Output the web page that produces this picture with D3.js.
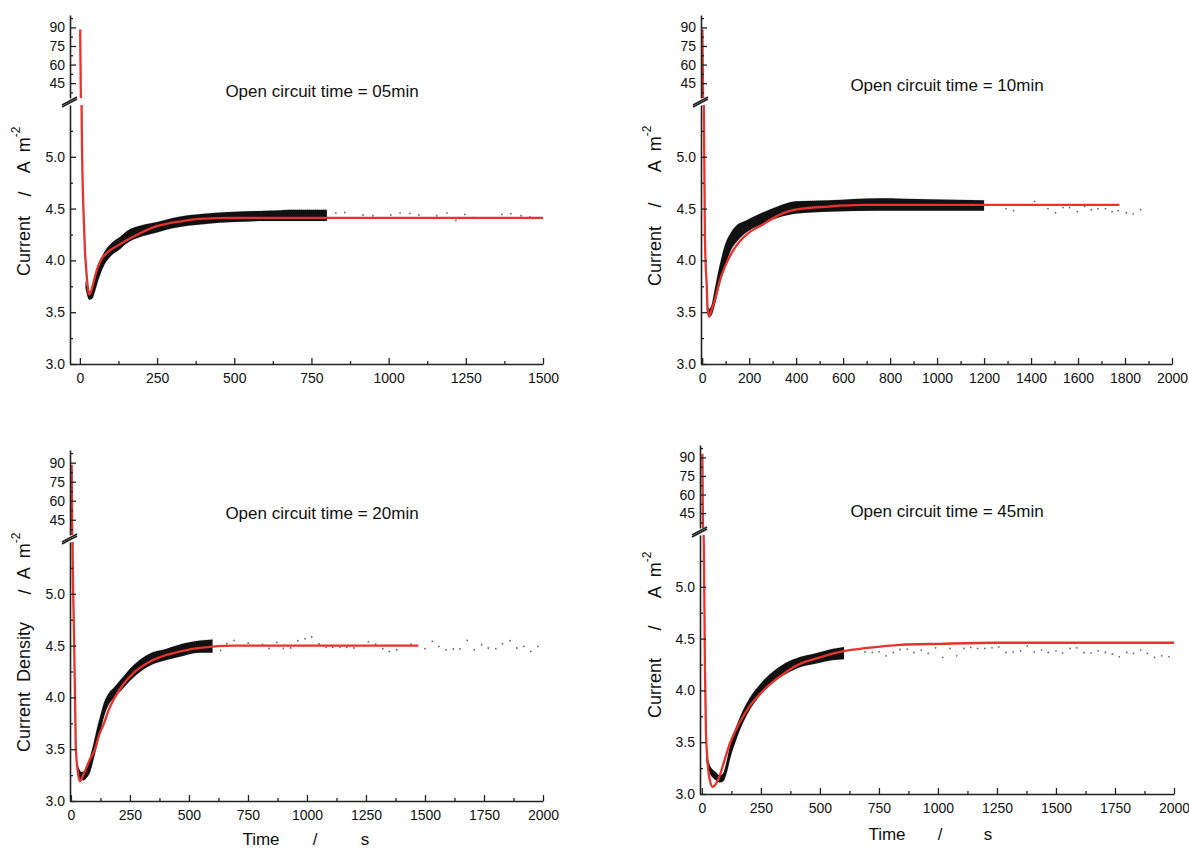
<!DOCTYPE html>
<html>
<head>
<meta charset="UTF-8">
<title>Current transients</title>
<script src="https://cdn.jsdelivr.net/npm/d3@7/dist/d3.min.js"></script>
<style>
  body { margin: 0; background: #fff; }
  svg { display: block; }
  text { font-family: "Liberation Sans", Arial, sans-serif; fill: #111; }
</style>
</head>
<body>
<script>
// ---- data: [time s, current A m-2] ----
const titles = ["Open circuit time = 05min", "Open circuit time = 10min",
                "Open circuit time = 20min", "Open circuit time = 45min"];

// fitted curves (red)
const fit05 = [[1,88.4],[5.5,5.5],[9,4.75],[12,4.45],[16,4.12],[20,3.93],[24,3.79],[27,3.71],[30,3.67],[35,3.69],
  [45,3.80],[55,3.91],[67,4.0],[90,4.08],[121,4.14],[174,4.23],[249,4.33],[333,4.38],[388,4.40],[500,4.41],[800,4.41],[1500,4.41]];
const fit10 = [[1,88.4],[7,5.5],[9,5.0],[11.5,4.27],[15,3.95],[19,3.78],[23,3.54],[28.6,3.46],[40,3.52],[54,3.62],
  [76,3.81],[97,3.94],[125,4.07],[155,4.17],[200,4.27],[254,4.34],[320,4.43],[396,4.49],[539,4.52],[681,4.535],[1200,4.535],[1776,4.535]];
const fit20 = [[3,88.4],[7,5.5],[12.7,4.65],[17,4.05],[21,3.5],[28,3.3],[38,3.19],[50,3.24],[65,3.32],[80,3.4],[102,3.5],
  [120,3.64],[140,3.75],[160,3.88],[186,4.0],[220,4.12],[264,4.235],[330,4.34],[405,4.41],[475,4.45],[547,4.477],[688,4.50],[1000,4.50],[1472,4.50]];
const fit45 = [[2,93],[7.5,5.5],[8.5,5.38],[12.7,4.26],[17,3.62],[22,3.38],[27,3.23],[35,3.12],[45,3.07],[60,3.10],[76,3.18],
  [95,3.32],[119,3.49],[160,3.69],[203,3.85],[274,4.03],[345,4.16],[410,4.25],[486,4.31],[599,4.38],[700,4.41],[839,4.44],
  [1008,4.45],[1250,4.46],[1500,4.46],[2000,4.46]];

// dense measured data, drawn as its envelope: [time, low, high]
const band05 = [[18,3.74,3.80],[25,3.65,3.73],[30,3.62,3.70],[40,3.63,3.73],[50,3.71,3.84],[60,3.81,3.95],[75,3.93,4.06],
  [100,4.04,4.16],[131,4.11,4.23],[150,4.16,4.28],[200,4.23,4.34],[250,4.27,4.37],[300,4.31,4.41],[400,4.35,4.45],
  [500,4.37,4.47],[600,4.38,4.48],[700,4.38,4.49],[800,4.38,4.49]];
const band10 = [[20,3.52,3.60],[28,3.45,3.53],[40,3.47,3.57],[54,3.57,3.73],[75,3.77,3.96],[97,3.94,4.15],[125,4.11,4.28],
  [147,4.18,4.34],[182,4.26,4.38],[254,4.35,4.46],[320,4.41,4.52],[396,4.45,4.57],[539,4.47,4.58],[752,4.48,4.60],
  [966,4.48,4.59],[1200,4.48,4.58]];
const band20 = [[26,3.26,3.36],[35,3.22,3.31],[45,3.20,3.28],[55,3.20,3.29],[65,3.22,3.32],[80,3.27,3.42],[95,3.39,3.55],
  [110,3.53,3.70],[125,3.67,3.83],[140,3.81,3.95],[160,3.93,4.04],[180,3.99,4.09],[210,4.06,4.17],[264,4.19,4.31],
  [330,4.30,4.42],[405,4.36,4.47],[475,4.40,4.52],[547,4.43,4.55],[600,4.43,4.56]];
const band45 = [[18,3.33,3.44],[25,3.25,3.35],[35,3.19,3.27],[45,3.16,3.24],[60,3.13,3.21],[75,3.11,3.18],[90,3.12,3.20],
  [105,3.20,3.32],[120,3.34,3.48],[150,3.55,3.68],[200,3.80,3.92],[250,3.96,4.07],[300,4.07,4.18],[350,4.15,4.26],
  [400,4.21,4.31],[486,4.26,4.36],[550,4.29,4.40],[602,4.30,4.42]];

// sparse points after the dense part
const tail05 = [[829,4.457],[858,4.463],[917,4.438],[949,4.431],[1007,4.438],[1037,4.457],[1069,4.454],[1098,4.438],
  [1156,4.431],[1189,4.457],[1218,4.386],[1247,4.444],[1276,4.412],[1367,4.444],[1396,4.451],[1429,4.431],[1458,4.419]];
const tail10 = [[1293,4.50],[1325,4.48],[1415,4.57],[1472,4.50],[1504,4.46],[1536,4.51],[1564,4.51],[1597,4.47],[1628,4.52],
  [1657,4.49],[1685,4.50],[1717,4.50],[1745,4.47],[1771,4.48],[1806,4.46],[1835,4.45],[1866,4.49]];
const tail20 = [[634,4.454],[660,4.518],[691,4.550],[751,4.525],[812,4.512],[840,4.473],[872,4.531],[900,4.473],[931,4.477],
  [961,4.547],[992,4.567],[1020,4.583],[1051,4.518],[1081,4.483],[1109,4.483],[1140,4.486],[1168,4.483],[1199,4.477],
  [1260,4.535],[1291,4.515],[1321,4.470],[1349,4.444],[1380,4.460],[1441,4.515],[1500,4.470],[1531,4.541],[1559,4.492],
  [1589,4.460],[1620,4.467],[1648,4.467],[1679,4.550],[1709,4.460],[1740,4.509],[1768,4.477],[1800,4.470],[1828,4.518],
  [1860,4.547],[1889,4.477],[1919,4.492],[1948,4.444],[1978,4.492]];
const tail45 = [[691,4.372],[722,4.366],[751,4.372],[780,4.334],[811,4.366],[839,4.395],[870,4.398],[898,4.366],[929,4.389],
  [959,4.357],[990,4.411],[1020,4.318],[1051,4.405],[1079,4.334],[1110,4.405],[1139,4.415],[1168,4.405],[1199,4.405],
  [1229,4.411],[1258,4.420],[1288,4.366],[1319,4.372],[1350,4.382],[1378,4.430],[1408,4.372],[1439,4.389],[1467,4.366],
  [1500,4.382],[1528,4.360],[1559,4.405],[1588,4.411],[1619,4.366],[1648,4.360],[1679,4.382],[1709,4.366],[1739,4.350],
  [1768,4.324],[1800,4.366],[1828,4.357],[1859,4.389],[1887,4.357],[1918,4.318],[1948,4.334],[1979,4.324]];

// tick labels
const xTicks05 = [0, 250, 500, 750, 1000, 1250, 1500];
const xTicks10 = [0, 200, 400, 600, 800, 1000, 1200, 1400, 1600, 1800, 2000];
const xTicks2000 = [0, 250, 500, 750, 1000, 1250, 1500, 1750, 2000];
const yUpperTicks = [45, 60, 75, 90];
const yLowerTicks = [3.0, 3.5, 4.0, 4.5, 5.0];
const upperDomain = [33, 100];
const lowerDomain = [3.0, 5.5];

// ---- layout ----
const panels = [
  {title: titles[0], fit: fit05, band: band05, tail: tail05, xTicks: xTicks05, xMinor: 125,
   xDomain: [-32, 1500], xRange: [70, 543], ax: 70, ay: 364, upTop: 15, upBot: 98, lowTop: 105,
   tx: 322, ty: 97, yLab: [["Current", 24, 246], ["/", 25, 194], ["A  m", 24, 150]], xLab: null},
  {title: titles[1], fit: fit10, band: band10, tail: tail10, xTicks: xTicks10, xMinor: 100,
   xDomain: [-5, 2000], xRange: [701, 1172], ax: 701, ay: 364, upTop: 15, upBot: 98, lowTop: 105,
   tx: 947, ty: 91, yLab: [["Current", 655, 256], ["/", 655, 205], ["A  m", 655, 149]], xLab: null},
  {title: titles[2], fit: fit20, band: band20, tail: tail20, xTicks: xTicks2000, xMinor: 125,
   xDomain: [-4, 2000], xRange: [70, 543], ax: 70, ay: 801, upTop: 450, upBot: 535, lowTop: 542,
   tx: 322, ty: 519, yLab: [["Current  Density", 24, 687], ["/", 25, 592], ["A  m", 24, 556]],
   xLab: [["Time", 261], ["/", 315], ["s", 365]], xLabY: 839},
  {title: titles[3], fit: fit45, band: band45, tail: tail45, xTicks: xTicks2000, xMinor: 125,
   xDomain: [-8, 2000], xRange: [700, 1174], ax: 700, ay: 794, upTop: 445, upBot: 528, lowTop: 535,
   tx: 947, ty: 517, yLab: [["Current", 655, 688], ["/", 655, 628], ["A  m", 655, 575]],
   xLab: [["Time", 887], ["/", 940], ["s", 988]], xLabY: 834}
];

const W = 1189, H = 849;
const svg = d3.select("body").append("svg").attr("width", W).attr("height", H);
const defs = svg.append("defs");
const RED = "#e8322c", AXIS = "#222";

panels.forEach(function (p, i) {
  const g = svg.append("g");
  const x = d3.scaleLinear().domain(p.xDomain).range(p.xRange);
  const yUp = d3.scaleLinear().domain(upperDomain).range([p.upBot, p.upTop]);
  const yLow = d3.scaleLinear().domain(lowerDomain).range([p.ay, p.lowTop]);

  // clip regions for the broken axis
  defs.append("clipPath").attr("id", "up" + i).append("rect")
    .attr("x", p.ax).attr("y", p.upTop - 4).attr("width", p.xRange[1] - p.ax + 10).attr("height", p.upBot - p.upTop + 4);
  defs.append("clipPath").attr("id", "low" + i).append("rect")
    .attr("x", p.ax).attr("y", p.lowTop).attr("width", p.xRange[1] - p.ax + 10).attr("height", p.ay - p.lowTop);

  // dense data envelope
  const area = d3.area().curve(d3.curveMonotoneX)
    .x(d => x(d[0])).y0(d => yLow(d[1])).y1(d => yLow(d[2]));
  g.append("path").datum(p.band).attr("d", area)
    .attr("fill", "#111").attr("stroke", "#444").attr("stroke-width", 0.5)
    .attr("stroke-dasharray", "0.5 1.5").attr("clip-path", "url(#low" + i + ")");

  // sparse tail points
  g.append("g").attr("clip-path", "url(#low" + i + ")")
    .selectAll("circle").data(p.tail).enter().append("circle")
    .attr("cx", d => x(d[0])).attr("cy", d => yLow(d[1]))
    .attr("r", 0.9).attr("fill", "#666");

  // fitted curve in both segments
  [[yUp, "up"], [yLow, "low"]].forEach(function (s) {
    const line = d3.line().curve(d3.curveMonotoneX).x(d => x(d[0])).y(d => s[0](d[1]));
    g.append("path").datum(p.fit).attr("d", line)
      .attr("fill", "none").attr("stroke", RED).attr("stroke-width", 2.3)
      .attr("clip-path", "url(#" + s[1] + i + ")");
  });

  // x axis (inward ticks)
  const xMinorVals = d3.range(0, p.xDomain[1] + 1, p.xMinor).filter(v => p.xTicks.indexOf(v) < 0);
  const xa = g.append("g").attr("transform", "translate(0," + p.ay + ")")
    .call(d3.axisBottom(x).tickValues(p.xTicks).tickSizeInner(-6).tickSizeOuter(0).tickPadding(8).tickFormat(d3.format("d")));
  g.append("g").attr("transform", "translate(0," + p.ay + ")")
    .call(d3.axisBottom(x).tickValues(xMinorVals).tickSizeInner(-3).tickSizeOuter(0).tickFormat(""))
    .select(".domain").remove();

  // y axes, upper and lower segments
  g.append("g").attr("transform", "translate(" + p.ax + ",0)")
    .call(d3.axisLeft(yUp).tickValues(yUpperTicks).tickSizeInner(-6).tickSizeOuter(0).tickPadding(5).tickFormat(d3.format("d")));
  g.append("g").attr("transform", "translate(" + p.ax + ",0)")
    .call(d3.axisLeft(yUp).tickValues([37.5, 52.5, 67.5, 82.5, 97.5]).tickSizeInner(-3).tickSizeOuter(0).tickFormat(""))
    .select(".domain").remove();
  g.append("g").attr("transform", "translate(" + p.ax + ",0)")
    .call(d3.axisLeft(yLow).tickValues(yLowerTicks).tickSizeInner(-6).tickSizeOuter(0).tickPadding(5).tickFormat(d3.format(".1f")));
  g.append("g").attr("transform", "translate(" + p.ax + ",0)")
    .call(d3.axisLeft(yLow).tickValues([3.25, 3.75, 4.25, 4.75, 5.25]).tickSizeInner(-3).tickSizeOuter(0).tickFormat(""))
    .select(".domain").remove();

  g.selectAll(".domain").attr("stroke", AXIS).attr("stroke-width", 1.6);
  g.selectAll(".tick line").attr("stroke", AXIS).attr("stroke-width", 1.3);
  g.selectAll(".tick text").attr("font-family", "Liberation Sans, Arial, sans-serif")
    .attr("font-size", 14).attr("fill", "#111");
  xa.selectAll(".tick text").attr("dy", "0.75em");

  // break marks
  [p.upBot + 3, p.lowTop - 2].forEach(function (yy) {
    g.append("line").attr("x1", p.ax - 8).attr("y1", yy + 4).attr("x2", p.ax + 7).attr("y2", yy - 4)
      .attr("stroke", AXIS).attr("stroke-width", 1.5);
  });

  // title
  g.append("text").attr("x", p.tx).attr("y", p.ty).attr("text-anchor", "middle")
    .attr("font-size", 17).text(p.title);

  // y label pieces
  p.yLab.forEach(function (l, k) {
    const t = g.append("text").attr("transform", "translate(" + l[1] + "," + l[2] + ") rotate(-90)")
      .attr("text-anchor", "middle").attr("dominant-baseline", "central").attr("font-size", 18)
      .attr("xml:space", "preserve").text(l[0]);
    if (k === 2) {
      t.append("tspan").attr("font-size", 12).attr("dy", "-0.7em").text("-2");
    }
  });

  // x label pieces
  if (p.xLab) {
    p.xLab.forEach(function (l) {
      g.append("text").attr("x", l[1]).attr("y", p.xLabY).attr("text-anchor", "middle")
        .attr("dominant-baseline", "central").attr("font-size", 17).text(l[0]);
    });
  }
});
</script>
</body>
</html>
